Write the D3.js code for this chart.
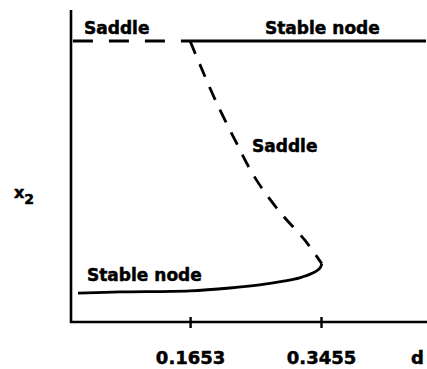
<!DOCTYPE html>
<html>
<head>
<meta charset="utf-8">
<script src="https://cdn.jsdelivr.net/npm/d3@7/dist/d3.min.js"></script>
<style>
  html, body { margin: 0; padding: 0; background: #fff; }
  svg { display: block; }
  text { font-family: "DejaVu Sans", sans-serif; font-weight: bold; fill: #000;
         stroke: #000; stroke-width: 0.5px; }
</style>
</head>
<body>
<svg id="chart" width="427" height="369"></svg>
<script>
// Bifurcation parameter d (horizontal) and equilibrium state x2 (vertical)
const tickValues = [0.1653, 0.3455];
const tickLabels = ["0.1653", "0.3455"];

// Upper equilibrium branch: saddle for small d, stable node beyond d = 0.1653
const upperSaddle = [[0.004, 1.0], [0.1555, 1.0]];
const upperStable = [[0.1555, 1.0], [0.49, 1.0]];

// Middle branch (saddle) running down to the fold at d = 0.3455
const middleSaddle = [
  [0.1653, 1.0], [0.179, 0.915], [0.200, 0.790], [0.227, 0.648],
  [0.255, 0.512], [0.289, 0.391], [0.323, 0.292], [0.3466, 0.207]
];

// Lower branch (stable node) from the fold back towards d = 0
const lowerStable = [
  [0.3466, 0.207], [0.344, 0.192], [0.334, 0.174], [0.316, 0.157],
  [0.296, 0.146], [0.261, 0.132], [0.220, 0.121], [0.165, 0.111],
  [0.069, 0.107], [0.011, 0.103]
];

const svg = d3.select("#chart");

const x = d3.scaleLinear().domain([0, 0.49]).range([70, 426]);
const y = d3.scaleLinear().domain([0, 1]).range([322, 41]);

const line = d3.line()
  .x(d => x(d[0]))
  .y(d => y(d[1]))
  .curve(d3.curveCatmullRom.alpha(0.5));

// Axes frame
svg.append("line")
  .attr("x1", 71).attr("x2", 71)
  .attr("y1", 10).attr("y2", y(0) + 1)
  .attr("stroke", "#000").attr("stroke-width", 2.6);

const xAxis = d3.axisBottom(x)
  .tickValues(tickValues)
  .tickFormat((d, i) => tickLabels[i])
  .tickSizeOuter(0);

const gx = svg.append("g")
  .attr("transform", `translate(0,${y(0)})`)
  .call(xAxis);
gx.select(".domain").remove();
gx.append("line")
  .attr("x1", 70).attr("x2", 427)
  .attr("y1", 0).attr("y2", 0)
  .attr("stroke", "#000").attr("stroke-width", 2.6);
gx.selectAll(".tick line")
  .attr("y1", -5).attr("y2", 6)
  .attr("stroke", "#000").attr("stroke-width", 2.4);
gx.selectAll(".tick text")
  .attr("y", 42).attr("dy", 0)
  .style("font-family", "'DejaVu Sans', sans-serif")
  .style("font-weight", "bold")
  .style("font-size", "18px")
  .attr("fill", "#000");

svg.append("text")
  .attr("x", 411).attr("y", 364)
  .style("font-size", "18px")
  .text("d");

// y-axis label x₂
const yl = svg.append("text")
  .attr("x", 14).attr("y", 198)
  .style("font-size", "16px");
yl.append("tspan").text("x");
yl.append("tspan").attr("dy", 6).style("font-size", "14px").text("2");

// Equilibrium branches
const dashTop = "20,16";
const dashMid = "14,11";

svg.append("path").datum(upperSaddle)
  .attr("d", line).attr("fill", "none")
  .attr("stroke", "#000").attr("stroke-width", 2.8)
  .attr("stroke-dasharray", dashTop);

svg.append("path").datum(upperStable)
  .attr("d", line).attr("fill", "none")
  .attr("stroke", "#000").attr("stroke-width", 2.8);

svg.append("path").datum(middleSaddle)
  .attr("d", line).attr("fill", "none")
  .attr("stroke", "#000").attr("stroke-width", 2.8)
  .attr("stroke-dasharray", dashMid);

svg.append("path").datum(lowerStable)
  .attr("d", line).attr("fill", "none")
  .attr("stroke", "#000").attr("stroke-width", 2.8);

// Branch labels
const labels = [
  { text: "Saddle", x: 84, y: 34 },
  { text: "Stable node", x: 265, y: 34 },
  { text: "Saddle", x: 252, y: 152 },
  { text: "Stable node", x: 87, y: 281 }
];
svg.selectAll("text.branch")
  .data(labels)
  .join("text")
  .attr("class", "branch")
  .attr("x", d => d.x).attr("y", d => d.y)
  .style("font-size", "17px")
  .text(d => d.text);
</script>
</body>
</html>
